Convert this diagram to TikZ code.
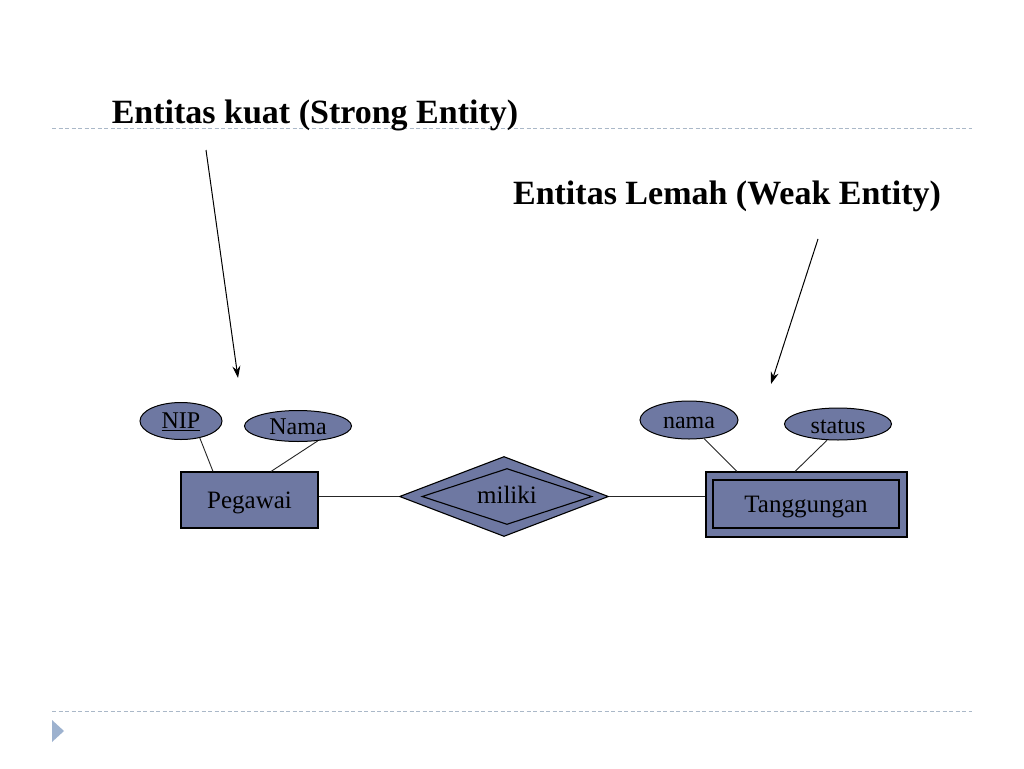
\documentclass[tikz,border=0pt]{standalone}
\usepackage{fontspec}
\setmainfont{Liberation Serif}
\usetikzlibrary{shapes.geometric,arrows.meta}
\definecolor{erfill}{RGB}{110,120,162}
\definecolor{ruleline}{RGB}{170,184,200}
\definecolor{bullet}{RGB}{157,178,207}
\tikzset{
  x=1pt,y=-1pt,
  title/.style={font=\fontsize{34}{40}\selectfont\bfseries, inner sep=0pt},
  ent/.style={draw=black, fill=erfill, line width=1.1pt, rectangle, inner sep=0pt},
  entin/.style={draw=black, line width=1.1pt, rectangle, inner sep=0pt},
  attr/.style={draw=black, fill=erfill, line width=1pt, ellipse, inner sep=0pt},
  rel/.style={draw=black, fill=erfill, line width=1.1pt, diamond, inner sep=0pt},
  relin/.style={draw=black, line width=1.1pt, diamond, inner sep=0pt},
  lbl/.style={font=\fontsize{25}{28}\selectfont, inner sep=0pt},
  albl/.style={font=\fontsize{24}{28}\selectfont, inner sep=0pt},
  conn/.style={draw=black!85, line width=0.9pt},
  pointer/.style={draw=black, line width=1pt, -{Stealth[length=12pt,width=8pt]}},
  dashrule/.style={draw=ruleline, line width=0.9pt, dash pattern=on 4pt off 2.5pt},
}
\begin{document}
\begin{tikzpicture}
\useasboundingbox (0,0) rectangle (1024,768);
\fill[white] (0,0) rectangle (1024,768);
% rules and bullet
\draw[dashrule] (52,128) -- (972,128);
\draw[dashrule] (52,711) -- (972,711);
\fill[bullet] (52,720) -- (64,731) -- (52,742) -- cycle;
% titles
\node[title] (t1) at (315,115) {Entitas kuat (Strong Entity)};
\node[title] (t2) at (727,196) {Entitas Lemah (Weak Entity)};
% arrows
\coordinate (a1s) at (206,150);
\coordinate (a1e) at (238,378);
\coordinate (a2s) at (818,239);
\coordinate (a2e) at (771,384);
\draw[pointer] (a1s) -- (a1e);
\draw[pointer] (a2s) -- (a2e);
% entities
\node[ent, minimum width=137pt, minimum height=56pt] (peg) at (249.5,500) {};
\node[lbl] (peglbl) at (249.5,503) {Pegawai};
\node[ent, minimum width=201pt, minimum height=65pt] (tang) at (806.5,504.5) {};
\node[entin, minimum width=186pt, minimum height=48pt] (tangin) at (806,504) {};
\node[lbl] (tanglbl) at (806,507) {Tanggungan};
% relationship
\node[rel, minimum width=209pt, minimum height=80pt] (rel) at (504,496.5) {};
\node[relin, minimum width=170pt, minimum height=56pt] (relin) at (507,496.5) {};
\node[lbl] (miliki) at (507,495) {miliki};
% attributes
\node[attr, minimum width=82pt, minimum height=37pt] (nip) at (181,421) {};
\node[albl] (niplbl) at (181,422) {\underline{NIP}};
\node[attr, minimum width=107pt, minimum height=31pt] (nama) at (298,426) {};
\node[albl] (namalbl) at (298,427) {Nama};
\node[attr, minimum width=98pt, minimum height=38pt] (nama2) at (689,420) {};
\node[albl] (nama2lbl) at (689,423) {nama};
\node[attr, minimum width=107pt, minimum height=32pt] (status) at (838,424) {};
\node[albl] (statuslbl) at (838,427) {status};
% connectors
\draw[conn] (nip.-42) -- ([xshift=-36.5pt]peg.north);
\draw[conn] (nama.-37) -- ([xshift=21.5pt]peg.north);
\draw[conn] (nama2.-51) -- ([xshift=-69.5pt]tang.north);
\draw[conn] (status.-124) -- ([xshift=-11.5pt]tang.north);
\draw[conn] (rel.west -| peg.east) -- (rel.west);
\draw[conn] (rel.east) -- (rel.east -| tang.west);
\end{tikzpicture}
\end{document}
